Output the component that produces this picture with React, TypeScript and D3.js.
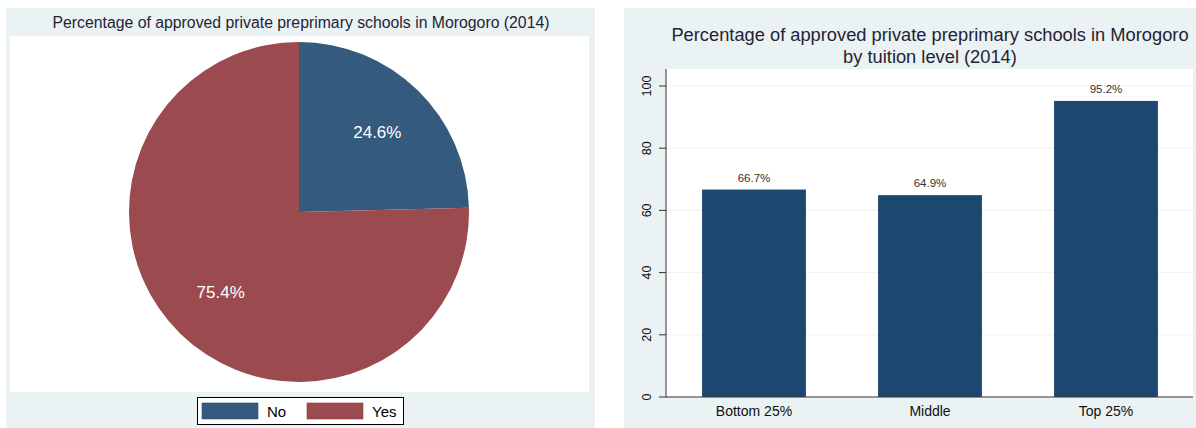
import * as d3 from 'd3';

// pie chart data
const pieCategories = ['No', 'Yes'];
const pieValues = [24.6, 75.4];

// bar chart data
const barCategories = ['Bottom 25%', 'Middle', 'Top 25%'];
const barValues = [66.7, 64.9, 95.2];
const yTicks = [0, 20, 40, 60, 80, 100];

const BG = '#eaf2f3';
const TEXT = '#1f2433';
const pieColors = ['#345a7e', '#9b4a4f'];
const barColor = '#1c4770';
const FONT = 'Arial, "Liberation Sans", Helvetica, sans-serif';

export default function App() {
  // ---- pie ----
  const cx = 299;
  const cy = 212;
  const r = 170;
  const pie = d3.pie<number>().sort(null).value((d) => d);
  const arcs = pie(pieValues);
  const arc = d3.arc<d3.PieArcDatum<number>>().innerRadius(0).outerRadius(r);
  const labelArc = d3
    .arc<d3.PieArcDatum<number>>()
    .innerRadius(r * 0.66)
    .outerRadius(r * 0.66);

  // ---- bars ----
  const x = d3
    .scaleBand()
    .domain(barCategories)
    .range([666, 1194])
    .paddingInner(0.41)
    .paddingOuter(0.205);
  const y = d3.scaleLinear().domain([0, 100]).range([397, 86]);

  return (
    <svg
      width={1196}
      height={428}
      style={{ position: 'absolute', left: 0, top: 0, fontFamily: FONT }}
    >
      {/* left panel */}
      <rect x={6} y={8} width={589} height={420} fill={BG} />
      <rect x={10} y={36} width={579} height={356} fill="#fff" />
      <text x={301} y={28} textAnchor="middle" fontSize={15.8} fill={TEXT}>
        Percentage of approved private preprimary schools in Morogoro (2014)
      </text>
      <g transform={`translate(${cx},${cy})`}>
        {arcs.map((a, i) => (
          <path key={i} d={arc(a) || ''} fill={pieColors[i]} />
        ))}
        {arcs.map((a, i) => {
          const [lx, ly] = labelArc.centroid(a);
          return (
            <text
              key={'l' + i}
              x={lx}
              y={ly}
              dy="0.35em"
              textAnchor="middle"
              fontSize={17}
              fill="#fff"
            >
              {pieValues[i].toFixed(1)}%
            </text>
          );
        })}
      </g>
      {/* legend */}
      <rect x={197.5} y={397.5} width={206} height={27} fill="#fff" stroke="#000" strokeWidth={1} />
      {pieCategories.map((c, i) => (
        <g key={c} transform={`translate(${202 + i * 105},403)`}>
          <rect width={56} height={16} fill={pieColors[i]} stroke={d3.color(pieColors[i])!.darker(0.3).toString()} strokeWidth={0.6} />
          <text x={65} y={13.5} fontSize={15} fill="#000">
            {c}
          </text>
        </g>
      ))}

      {/* right panel */}
      <rect x={624} y={8} width={572} height={420} fill={BG} />
      <rect x={666} y={69} width={527} height={328} fill="#fff" />
      <text x={930} textAnchor="middle" fontSize={18.3} fill={TEXT}>
        <tspan x={930} y={41}>
          Percentage of approved private preprimary schools in Morogoro
        </tspan>
        <tspan x={930} y={63}>
          by tuition level (2014)
        </tspan>
      </text>
      {/* grid lines */}
      {yTicks.map((t) => (
        <line key={'g' + t} x1={666} x2={1193} y1={y(t)} y2={y(t)} stroke={BG} strokeWidth={1} />
      ))}
      {/* bars */}
      {barValues.map((v, i) => (
        <g key={barCategories[i]}>
          <rect
            x={x(barCategories[i])}
            y={y(v)}
            width={x.bandwidth()}
            height={y(0) - y(v)}
            fill={barColor}
          />
          <text
            x={(x(barCategories[i]) || 0) + x.bandwidth() / 2}
            y={y(v) - 8}
            textAnchor="middle"
            fontSize={11.5}
            fill="#333"
          >
            {v.toFixed(1)}%
          </text>
          <text
            x={(x(barCategories[i]) || 0) + x.bandwidth() / 2}
            y={416}
            textAnchor="middle"
            fontSize={14}
            fill="#111"
          >
            {barCategories[i]}
          </text>
        </g>
      ))}
      {/* y axis */}
      <line x1={666} x2={666} y1={69} y2={397.5} stroke="#333" strokeWidth={1} />
      <line x1={666} x2={1193} y1={397} y2={397} stroke="#333" strokeWidth={1} />
      {yTicks.map((t) => (
        <g key={'t' + t}>
          <line x1={659} x2={666} y1={y(t)} y2={y(t)} stroke="#333" strokeWidth={1} />
          <text
            transform={`translate(651,${y(t)}) rotate(-90)`}
            textAnchor="middle"
            fontSize={12.5}
            fill="#111"
          >
            {t}
          </text>
        </g>
      ))}
    </svg>
  );
}
